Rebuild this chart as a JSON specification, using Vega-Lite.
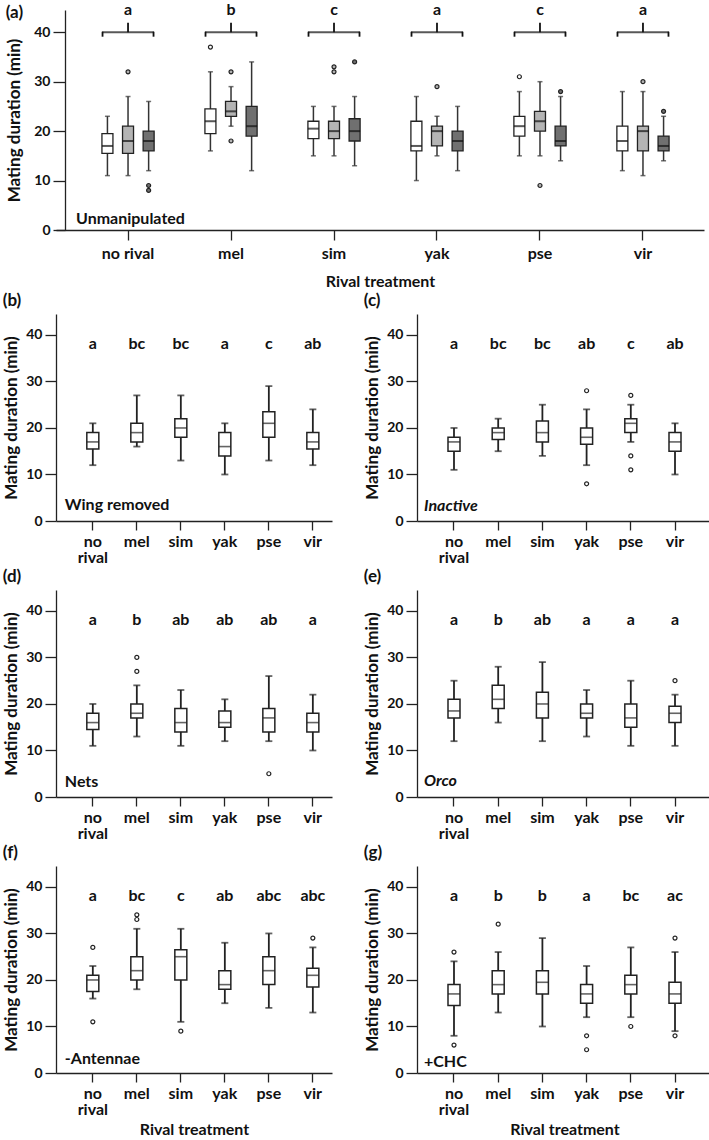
{
  "$schema": "https://vega.github.io/schema/vega-lite/v6.json",
  "background": "white",
  "padding": {"left": 2, "top": 2, "right": 0, "bottom": 0},
  "columns": 1,
  "spacing": 3,
  "datasets": {
    "abox": [
      {"t": "no rival", "g": "g1", "lo": 11, "q1": 15.5, "med": 17, "q3": 19.5, "hi": 23},
      {"t": "no rival", "g": "g2", "lo": 11, "q1": 15.5, "med": 18, "q3": 21, "hi": 27},
      {"t": "no rival", "g": "g3", "lo": 12, "q1": 16, "med": 18, "q3": 20, "hi": 26},
      {"t": "mel", "g": "g1", "lo": 16, "q1": 19.5, "med": 22, "q3": 24.5, "hi": 32},
      {"t": "mel", "g": "g2", "lo": 21, "q1": 23, "med": 24, "q3": 26, "hi": 29},
      {"t": "mel", "g": "g3", "lo": 12, "q1": 19, "med": 21, "q3": 25, "hi": 34},
      {"t": "sim", "g": "g1", "lo": 15, "q1": 18.5, "med": 20.5, "q3": 22, "hi": 25},
      {"t": "sim", "g": "g2", "lo": 15, "q1": 18.5, "med": 20, "q3": 22, "hi": 25},
      {"t": "sim", "g": "g3", "lo": 13, "q1": 18, "med": 20, "q3": 22.5, "hi": 27},
      {"t": "yak", "g": "g1", "lo": 10, "q1": 16, "med": 17, "q3": 22, "hi": 27},
      {"t": "yak", "g": "g2", "lo": 15, "q1": 17, "med": 20, "q3": 21, "hi": 23},
      {"t": "yak", "g": "g3", "lo": 12, "q1": 16, "med": 18, "q3": 20, "hi": 25},
      {"t": "pse", "g": "g1", "lo": 15, "q1": 19, "med": 21, "q3": 23, "hi": 28},
      {"t": "pse", "g": "g2", "lo": 15, "q1": 20, "med": 22, "q3": 24, "hi": 30},
      {"t": "pse", "g": "g3", "lo": 14, "q1": 17, "med": 18, "q3": 21, "hi": 27},
      {"t": "vir", "g": "g1", "lo": 12, "q1": 16, "med": 18, "q3": 21, "hi": 28},
      {"t": "vir", "g": "g2", "lo": 11, "q1": 16, "med": 20, "q3": 21, "hi": 28},
      {"t": "vir", "g": "g3", "lo": 14, "q1": 16, "med": 17, "q3": 19, "hi": 23}
    ],
    "aout": [
      {"t": "no rival", "g": "g2", "v": 32},
      {"t": "no rival", "g": "g3", "v": 9},
      {"t": "no rival", "g": "g3", "v": 8},
      {"t": "mel", "g": "g1", "v": 37},
      {"t": "mel", "g": "g2", "v": 32},
      {"t": "mel", "g": "g2", "v": 18},
      {"t": "sim", "g": "g2", "v": 32},
      {"t": "sim", "g": "g2", "v": 33},
      {"t": "sim", "g": "g3", "v": 34},
      {"t": "yak", "g": "g2", "v": 29},
      {"t": "pse", "g": "g1", "v": 31},
      {"t": "pse", "g": "g2", "v": 9},
      {"t": "pse", "g": "g3", "v": 28},
      {"t": "vir", "g": "g2", "v": 30},
      {"t": "vir", "g": "g3", "v": 24}
    ],
    "box": [
      {"p": "b", "t": "no rival", "lo": 12, "q1": 15.5, "med": 17, "q3": 19, "hi": 21},
      {"p": "b", "t": "mel", "lo": 16, "q1": 17, "med": 19, "q3": 21, "hi": 27},
      {"p": "b", "t": "sim", "lo": 13, "q1": 18, "med": 20, "q3": 22, "hi": 27},
      {"p": "b", "t": "yak", "lo": 10, "q1": 14, "med": 16, "q3": 19, "hi": 21},
      {"p": "b", "t": "pse", "lo": 13, "q1": 18, "med": 21, "q3": 23.5, "hi": 29},
      {"p": "b", "t": "vir", "lo": 12, "q1": 15.5, "med": 17, "q3": 19, "hi": 24},
      {"p": "c", "t": "no rival", "lo": 11, "q1": 15, "med": 17, "q3": 18, "hi": 20},
      {"p": "c", "t": "mel", "lo": 15, "q1": 17.5, "med": 19, "q3": 20, "hi": 22},
      {"p": "c", "t": "sim", "lo": 14, "q1": 17, "med": 19, "q3": 21.5, "hi": 25},
      {"p": "c", "t": "yak", "lo": 12, "q1": 16.5, "med": 18, "q3": 20, "hi": 24},
      {"p": "c", "t": "pse", "lo": 17, "q1": 19, "med": 21, "q3": 22, "hi": 25},
      {"p": "c", "t": "vir", "lo": 10, "q1": 15, "med": 17, "q3": 19, "hi": 21},
      {"p": "d", "t": "no rival", "lo": 11, "q1": 14.5, "med": 16, "q3": 18, "hi": 20},
      {"p": "d", "t": "mel", "lo": 13, "q1": 17, "med": 18, "q3": 20, "hi": 24},
      {"p": "d", "t": "sim", "lo": 11, "q1": 14, "med": 16, "q3": 19, "hi": 23},
      {"p": "d", "t": "yak", "lo": 12, "q1": 15, "med": 16, "q3": 18.5, "hi": 21},
      {"p": "d", "t": "pse", "lo": 12, "q1": 14, "med": 17, "q3": 19, "hi": 26},
      {"p": "d", "t": "vir", "lo": 10, "q1": 14, "med": 16, "q3": 18, "hi": 22},
      {"p": "e", "t": "no rival", "lo": 12, "q1": 17, "med": 18.5, "q3": 21, "hi": 25},
      {"p": "e", "t": "mel", "lo": 16, "q1": 19, "med": 21, "q3": 24, "hi": 28},
      {"p": "e", "t": "sim", "lo": 12, "q1": 17, "med": 20, "q3": 22.5, "hi": 29},
      {"p": "e", "t": "yak", "lo": 13, "q1": 17, "med": 18, "q3": 20, "hi": 23},
      {"p": "e", "t": "pse", "lo": 11, "q1": 15, "med": 17, "q3": 20, "hi": 25},
      {"p": "e", "t": "vir", "lo": 11, "q1": 16, "med": 18, "q3": 19.5, "hi": 22},
      {"p": "f", "t": "no rival", "lo": 16, "q1": 17.5, "med": 20, "q3": 21, "hi": 23},
      {"p": "f", "t": "mel", "lo": 18, "q1": 20, "med": 22, "q3": 25, "hi": 31},
      {"p": "f", "t": "sim", "lo": 11, "q1": 20, "med": 25, "q3": 26.5, "hi": 31},
      {"p": "f", "t": "yak", "lo": 15, "q1": 18, "med": 19, "q3": 22, "hi": 28},
      {"p": "f", "t": "pse", "lo": 14, "q1": 19, "med": 22, "q3": 25, "hi": 30},
      {"p": "f", "t": "vir", "lo": 13, "q1": 18.5, "med": 21, "q3": 22.5, "hi": 27},
      {"p": "g", "t": "no rival", "lo": 8, "q1": 14.5, "med": 17, "q3": 19, "hi": 24},
      {"p": "g", "t": "mel", "lo": 13, "q1": 17, "med": 19, "q3": 22, "hi": 26},
      {"p": "g", "t": "sim", "lo": 10, "q1": 17, "med": 19.5, "q3": 22, "hi": 29},
      {"p": "g", "t": "yak", "lo": 12, "q1": 15, "med": 17, "q3": 19, "hi": 23},
      {"p": "g", "t": "pse", "lo": 12, "q1": 17, "med": 19, "q3": 21, "hi": 27},
      {"p": "g", "t": "vir", "lo": 9, "q1": 15, "med": 17, "q3": 19.5, "hi": 26}
    ],
    "out": [
      {"p": "c", "t": "yak", "v": 28}, {"p": "c", "t": "yak", "v": 8},
      {"p": "c", "t": "pse", "v": 27}, {"p": "c", "t": "pse", "v": 14}, {"p": "c", "t": "pse", "v": 11},
      {"p": "d", "t": "mel", "v": 30}, {"p": "d", "t": "mel", "v": 27}, {"p": "d", "t": "pse", "v": 5},
      {"p": "e", "t": "vir", "v": 25},
      {"p": "f", "t": "no rival", "v": 27}, {"p": "f", "t": "no rival", "v": 11},
      {"p": "f", "t": "mel", "v": 34}, {"p": "f", "t": "mel", "v": 33},
      {"p": "f", "t": "sim", "v": 9}, {"p": "f", "t": "vir", "v": 29},
      {"p": "g", "t": "no rival", "v": 26}, {"p": "g", "t": "no rival", "v": 6},
      {"p": "g", "t": "mel", "v": 32},
      {"p": "g", "t": "yak", "v": 8}, {"p": "g", "t": "yak", "v": 5},
      {"p": "g", "t": "pse", "v": 10},
      {"p": "g", "t": "vir", "v": 29}, {"p": "g", "t": "vir", "v": 8}
    ],
    "letters": [
      {"p": "a", "t": "no rival", "letter": "a"}, {"p": "a", "t": "mel", "letter": "b"}, {"p": "a", "t": "sim", "letter": "c"},
      {"p": "a", "t": "yak", "letter": "a"}, {"p": "a", "t": "pse", "letter": "c"}, {"p": "a", "t": "vir", "letter": "a"},
      {"p": "b", "t": "no rival", "letter": "a"}, {"p": "b", "t": "mel", "letter": "bc"}, {"p": "b", "t": "sim", "letter": "bc"},
      {"p": "b", "t": "yak", "letter": "a"}, {"p": "b", "t": "pse", "letter": "c"}, {"p": "b", "t": "vir", "letter": "ab"},
      {"p": "c", "t": "no rival", "letter": "a"}, {"p": "c", "t": "mel", "letter": "bc"}, {"p": "c", "t": "sim", "letter": "bc"},
      {"p": "c", "t": "yak", "letter": "ab"}, {"p": "c", "t": "pse", "letter": "c"}, {"p": "c", "t": "vir", "letter": "ab"},
      {"p": "d", "t": "no rival", "letter": "a"}, {"p": "d", "t": "mel", "letter": "b"}, {"p": "d", "t": "sim", "letter": "ab"},
      {"p": "d", "t": "yak", "letter": "ab"}, {"p": "d", "t": "pse", "letter": "ab"}, {"p": "d", "t": "vir", "letter": "a"},
      {"p": "e", "t": "no rival", "letter": "a"}, {"p": "e", "t": "mel", "letter": "b"}, {"p": "e", "t": "sim", "letter": "ab"},
      {"p": "e", "t": "yak", "letter": "a"}, {"p": "e", "t": "pse", "letter": "a"}, {"p": "e", "t": "vir", "letter": "a"},
      {"p": "f", "t": "no rival", "letter": "a"}, {"p": "f", "t": "mel", "letter": "bc"}, {"p": "f", "t": "sim", "letter": "c"},
      {"p": "f", "t": "yak", "letter": "ab"}, {"p": "f", "t": "pse", "letter": "abc"}, {"p": "f", "t": "vir", "letter": "abc"},
      {"p": "g", "t": "no rival", "letter": "a"}, {"p": "g", "t": "mel", "letter": "b"}, {"p": "g", "t": "sim", "letter": "b"},
      {"p": "g", "t": "yak", "letter": "a"}, {"p": "g", "t": "pse", "letter": "bc"}, {"p": "g", "t": "vir", "letter": "ac"}
    ],
    "panels": [
      {"p": "a", "condition": "Unmanipulated"},
      {"p": "b", "condition": "Wing removed"},
      {"p": "c", "condition": "Inactive"},
      {"p": "d", "condition": "Nets"},
      {"p": "e", "condition": "Orco"},
      {"p": "f", "condition": "-Antennae"},
      {"p": "g", "condition": "+CHC"}
    ]
  },
  "concat": [
    {
      "width": 648, "height": 220,
      "title": {"text": "(a)", "offset": -20},
      "encoding": {"x": {"field": "t", "type": "nominal", "sort": ["no rival", "mel", "sim", "yak", "pse", "vir"], "title": "Rival treatment",
        "scale": {"domain": ["no rival", "mel", "sim", "yak", "pse", "vir"], "paddingInner": 0, "paddingOuter": 0.146, "align": 0.683},
        "axis": {"tickSize": 10, "labelPadding": 5, "titlePadding": 12}}},
      "layer": [
        {"data": {"name": "abox"}, "mark": {"type": "rule", "color": "#333", "strokeWidth": 1.5},
          "encoding": {"xOffset": {"field": "g", "type": "nominal", "scale": {"domain": ["g1", "g2", "g3"], "paddingInner": 0, "paddingOuter": 1.21}},
            "y": {"field": "lo", "type": "quantitative", "scale": {"domain": [0, 44.5], "nice": false}, "axis": {"values": [0, 10, 20, 30, 40], "title": "Mating duration (min)", "labelFontSize": 14, "tickSize": 12, "titlePadding": 10, "offset": -9}},
            "y2": {"field": "hi"}}},
        {"data": {"name": "abox"}, "mark": {"type": "tick", "color": "#333", "size": 5, "thickness": 1.5},
          "encoding": {"xOffset": {"field": "g", "type": "nominal", "scale": {"domain": ["g1", "g2", "g3"], "paddingInner": 0, "paddingOuter": 1.21}},
            "y": {"field": "lo", "type": "quantitative", "scale": {"domain": [0, 44.5], "nice": false}}}},
        {"data": {"name": "abox"}, "mark": {"type": "tick", "color": "#333", "size": 5, "thickness": 1.5},
          "encoding": {"xOffset": {"field": "g", "type": "nominal", "scale": {"domain": ["g1", "g2", "g3"], "paddingInner": 0, "paddingOuter": 1.21}},
            "y": {"field": "hi", "type": "quantitative", "scale": {"domain": [0, 44.5], "nice": false}}}},
        {"data": {"name": "abox"}, "mark": {"type": "bar", "size": 11, "stroke": "#222", "strokeWidth": 1.3},
          "encoding": {"xOffset": {"field": "g", "type": "nominal", "scale": {"domain": ["g1", "g2", "g3"], "paddingInner": 0, "paddingOuter": 1.21}},
            "y": {"field": "q1", "type": "quantitative", "scale": {"domain": [0, 44.5], "nice": false}},
            "y2": {"field": "q3"},
            "fill": {"field": "g", "type": "nominal", "scale": {"domain": ["g1", "g2", "g3"], "range": ["#ffffff", "#b4b4b4", "#707070"]}, "legend": null}}},
        {"data": {"name": "abox"}, "mark": {"type": "tick", "color": "#111", "size": 11, "thickness": 2},
          "encoding": {"xOffset": {"field": "g", "type": "nominal", "scale": {"domain": ["g1", "g2", "g3"], "paddingInner": 0, "paddingOuter": 1.21}},
            "y": {"field": "med", "type": "quantitative", "scale": {"domain": [0, 44.5], "nice": false}}}},
        {"data": {"name": "aout"}, "mark": {"type": "point", "filled": true, "stroke": "#222", "strokeWidth": 1.2, "size": 16, "opacity": 1},
          "encoding": {"xOffset": {"field": "g", "type": "nominal", "scale": {"domain": ["g1", "g2", "g3"], "paddingInner": 0, "paddingOuter": 1.21}},
            "y": {"field": "v", "type": "quantitative", "scale": {"domain": [0, 44.5], "nice": false}},
            "fill": {"field": "g", "type": "nominal", "scale": {"domain": ["g1", "g2", "g3"], "range": ["#ffffff", "#b4b4b4", "#707070"]}, "legend": null}}},
        {"data": {"name": "letters"}, "transform": [{"filter": "datum.p == 'a'"}], "mark": {"type": "tick", "color": "#111", "size": 52, "thickness": 1.8},
          "encoding": {"y": {"datum": 40, "type": "quantitative", "scale": {"domain": [0, 44.5], "nice": false}}}},
        {"data": {"name": "letters"}, "transform": [{"filter": "datum.p == 'a'"}], "mark": {"type": "rule", "color": "#111", "strokeWidth": 1.8, "xOffset": -25.5},
          "encoding": {"y": {"datum": 40.1, "type": "quantitative", "scale": {"domain": [0, 44.5], "nice": false}}, "y2": {"datum": 39.1}}},
        {"data": {"name": "letters"}, "transform": [{"filter": "datum.p == 'a'"}], "mark": {"type": "rule", "color": "#111", "strokeWidth": 1.8, "xOffset": 25.5},
          "encoding": {"y": {"datum": 40.1, "type": "quantitative", "scale": {"domain": [0, 44.5], "nice": false}}, "y2": {"datum": 39.1}}},
        {"data": {"name": "letters"}, "transform": [{"filter": "datum.p == 'a'"}], "mark": {"type": "rule", "color": "#111", "strokeWidth": 1.8},
          "encoding": {"y": {"datum": 40, "type": "quantitative", "scale": {"domain": [0, 44.5], "nice": false}}, "y2": {"datum": 41.9}}},
        {"data": {"name": "letters"}, "transform": [{"filter": "datum.p == 'a'"}], "mark": {"type": "text", "font": "Lato", "fontWeight": "bold", "fontSize": 16, "baseline": "middle", "color": "#111"},
          "encoding": {"y": {"datum": 44.4, "type": "quantitative", "scale": {"domain": [0, 44.5], "nice": false}}, "text": {"field": "letter"}}},
        {"data": {"name": "panels"}, "transform": [{"filter": "datum.p == 'a'"}], "mark": {"type": "text", "font": "Lato", "fontWeight": "bold", "fontSize": 16, "baseline": "middle", "align": "left", "dx": -52, "color": "#111"},
          "encoding": {"x": {"datum": "no rival"}, "y": {"datum": 2.3, "type": "quantitative", "scale": {"domain": [0, 44.5], "nice": false}}, "text": {"field": "condition"}}}
      ]
    },
    {
      "spacing": 31,
      "hconcat": [
        {
          "width": 276, "height": 207,
          "title": {"text": "(b)"},
          "encoding": {"x": {"field": "t", "type": "nominal", "sort": ["no rival", "mel", "sim", "yak", "pse", "vir"], "title": null,
            "scale": {"domain": ["no rival", "mel", "sim", "yak", "pse", "vir"], "paddingInner": 0.5, "paddingOuter": 0.386, "align": 0.76},
            "axis": {"labelExpr": "datum.value == 'no rival' ? ['no', 'rival'] : datum.value"}}},
          "layer": [
            {"data": {"name": "box"}, "transform": [{"filter": "datum.p == 'b'"}], "mark": {"type": "rule", "color": "#222", "strokeWidth": 1.8},
              "encoding": {"y": {"field": "lo", "type": "quantitative", "scale": {"domain": [0, 44.5], "nice": false}, "axis": {"values": [0, 10, 20, 30, 40], "title": "Mating duration (min)"}}, "y2": {"field": "hi"}}},
            {"data": {"name": "box"}, "transform": [{"filter": "datum.p == 'b'"}], "mark": {"type": "tick", "color": "#222", "size": 7, "thickness": 1.8},
              "encoding": {"y": {"field": "lo", "type": "quantitative", "scale": {"domain": [0, 44.5], "nice": false}}}},
            {"data": {"name": "box"}, "transform": [{"filter": "datum.p == 'b'"}], "mark": {"type": "tick", "color": "#222", "size": 7, "thickness": 1.8},
              "encoding": {"y": {"field": "hi", "type": "quantitative", "scale": {"domain": [0, 44.5], "nice": false}}}},
            {"data": {"name": "box"}, "transform": [{"filter": "datum.p == 'b'"}], "mark": {"type": "bar", "size": 12, "fill": "#ffffff", "stroke": "#222", "strokeWidth": 1.5},
              "encoding": {"y": {"field": "q1", "type": "quantitative", "scale": {"domain": [0, 44.5], "nice": false}}, "y2": {"field": "q3"}}},
            {"data": {"name": "box"}, "transform": [{"filter": "datum.p == 'b'"}], "mark": {"type": "tick", "color": "#222", "size": 12, "thickness": 1.6},
              "encoding": {"y": {"field": "med", "type": "quantitative", "scale": {"domain": [0, 44.5], "nice": false}}}},
            {"data": {"name": "letters"}, "transform": [{"filter": "datum.p == 'b'"}], "mark": {"type": "text", "font": "Lato", "fontWeight": "bold", "fontSize": 16, "baseline": "middle", "color": "#111"},
              "encoding": {"y": {"datum": 38, "type": "quantitative", "scale": {"domain": [0, 44.5], "nice": false}}, "text": {"field": "letter"}}},
            {"data": {"name": "panels"}, "transform": [{"filter": "datum.p == 'b'"}], "mark": {"type": "text", "font": "Lato", "fontWeight": "bold", "fontSize": 16, "baseline": "middle", "align": "left", "dx": -28, "color": "#111"},
              "encoding": {"x": {"datum": "no rival"}, "y": {"datum": 3.4, "type": "quantitative", "scale": {"domain": [0, 44.5], "nice": false}}, "text": {"field": "condition"}}}
          ]
        },
        {
          "width": 295, "height": 207,
          "title": {"text": "(c)"},
          "encoding": {"x": {"field": "t", "type": "nominal", "sort": ["no rival", "mel", "sim", "yak", "pse", "vir"], "title": null,
            "scale": {"domain": ["no rival", "mel", "sim", "yak", "pse", "vir"], "paddingInner": 0, "paddingOuter": 0.337},
            "axis": {"labelExpr": "datum.value == 'no rival' ? ['no', 'rival'] : datum.value"}}},
          "layer": [
            {"data": {"name": "box"}, "transform": [{"filter": "datum.p == 'c'"}], "mark": {"type": "rule", "color": "#222", "strokeWidth": 1.8},
              "encoding": {"y": {"field": "lo", "type": "quantitative", "scale": {"domain": [0, 44.5], "nice": false}, "axis": {"values": [0, 10, 20, 30, 40], "title": "Mating duration (min)"}}, "y2": {"field": "hi"}}},
            {"data": {"name": "box"}, "transform": [{"filter": "datum.p == 'c'"}], "mark": {"type": "tick", "color": "#222", "size": 7, "thickness": 1.8},
              "encoding": {"y": {"field": "lo", "type": "quantitative", "scale": {"domain": [0, 44.5], "nice": false}}}},
            {"data": {"name": "box"}, "transform": [{"filter": "datum.p == 'c'"}], "mark": {"type": "tick", "color": "#222", "size": 7, "thickness": 1.8},
              "encoding": {"y": {"field": "hi", "type": "quantitative", "scale": {"domain": [0, 44.5], "nice": false}}}},
            {"data": {"name": "box"}, "transform": [{"filter": "datum.p == 'c'"}], "mark": {"type": "bar", "size": 12, "fill": "#ffffff", "stroke": "#222", "strokeWidth": 1.5},
              "encoding": {"y": {"field": "q1", "type": "quantitative", "scale": {"domain": [0, 44.5], "nice": false}}, "y2": {"field": "q3"}}},
            {"data": {"name": "box"}, "transform": [{"filter": "datum.p == 'c'"}], "mark": {"type": "tick", "color": "#222", "size": 12, "thickness": 1.6},
              "encoding": {"y": {"field": "med", "type": "quantitative", "scale": {"domain": [0, 44.5], "nice": false}}}},
            {"data": {"name": "out"}, "transform": [{"filter": "datum.p == 'c'"}], "mark": {"type": "point", "filled": true, "fill": "#ffffff", "stroke": "#222", "strokeWidth": 1.2, "size": 16, "opacity": 1},
              "encoding": {"y": {"field": "v", "type": "quantitative", "scale": {"domain": [0, 44.5], "nice": false}}}},
            {"data": {"name": "letters"}, "transform": [{"filter": "datum.p == 'c'"}], "mark": {"type": "text", "font": "Lato", "fontWeight": "bold", "fontSize": 16, "baseline": "middle", "color": "#111"},
              "encoding": {"y": {"datum": 38, "type": "quantitative", "scale": {"domain": [0, 44.5], "nice": false}}, "text": {"field": "letter"}}},
            {"data": {"name": "panels"}, "transform": [{"filter": "datum.p == 'c'"}], "mark": {"type": "text", "font": "Lato", "fontStyle": "italic", "fontWeight": "bold", "fontSize": 16, "baseline": "middle", "align": "left", "dx": -30, "color": "#111"},
              "encoding": {"x": {"datum": "no rival"}, "y": {"datum": 3.2, "type": "quantitative", "scale": {"domain": [0, 44.5], "nice": false}}, "text": {"field": "condition"}}}
          ]
        }
      ]
    },
    {
      "spacing": 31,
      "hconcat": [
        {
          "width": 276, "height": 207,
          "title": {"text": "(d)"},
          "encoding": {"x": {"field": "t", "type": "nominal", "sort": ["no rival", "mel", "sim", "yak", "pse", "vir"], "title": null,
            "scale": {"domain": ["no rival", "mel", "sim", "yak", "pse", "vir"], "paddingInner": 0.5, "paddingOuter": 0.386, "align": 0.76},
            "axis": {"labelExpr": "datum.value == 'no rival' ? ['no', 'rival'] : datum.value"}}},
          "layer": [
            {"data": {"name": "box"}, "transform": [{"filter": "datum.p == 'd'"}], "mark": {"type": "rule", "color": "#222", "strokeWidth": 1.8},
              "encoding": {"y": {"field": "lo", "type": "quantitative", "scale": {"domain": [0, 44.5], "nice": false}, "axis": {"values": [0, 10, 20, 30, 40], "title": "Mating duration (min)"}}, "y2": {"field": "hi"}}},
            {"data": {"name": "box"}, "transform": [{"filter": "datum.p == 'd'"}], "mark": {"type": "tick", "color": "#222", "size": 7, "thickness": 1.8},
              "encoding": {"y": {"field": "lo", "type": "quantitative", "scale": {"domain": [0, 44.5], "nice": false}}}},
            {"data": {"name": "box"}, "transform": [{"filter": "datum.p == 'd'"}], "mark": {"type": "tick", "color": "#222", "size": 7, "thickness": 1.8},
              "encoding": {"y": {"field": "hi", "type": "quantitative", "scale": {"domain": [0, 44.5], "nice": false}}}},
            {"data": {"name": "box"}, "transform": [{"filter": "datum.p == 'd'"}], "mark": {"type": "bar", "size": 12, "fill": "#ffffff", "stroke": "#222", "strokeWidth": 1.5},
              "encoding": {"y": {"field": "q1", "type": "quantitative", "scale": {"domain": [0, 44.5], "nice": false}}, "y2": {"field": "q3"}}},
            {"data": {"name": "box"}, "transform": [{"filter": "datum.p == 'd'"}], "mark": {"type": "tick", "color": "#222", "size": 12, "thickness": 1.6},
              "encoding": {"y": {"field": "med", "type": "quantitative", "scale": {"domain": [0, 44.5], "nice": false}}}},
            {"data": {"name": "out"}, "transform": [{"filter": "datum.p == 'd'"}], "mark": {"type": "point", "filled": true, "fill": "#ffffff", "stroke": "#222", "strokeWidth": 1.2, "size": 16, "opacity": 1},
              "encoding": {"y": {"field": "v", "type": "quantitative", "scale": {"domain": [0, 44.5], "nice": false}}}},
            {"data": {"name": "letters"}, "transform": [{"filter": "datum.p == 'd'"}], "mark": {"type": "text", "font": "Lato", "fontWeight": "bold", "fontSize": 16, "baseline": "middle", "color": "#111"},
              "encoding": {"y": {"datum": 38, "type": "quantitative", "scale": {"domain": [0, 44.5], "nice": false}}, "text": {"field": "letter"}}},
            {"data": {"name": "panels"}, "transform": [{"filter": "datum.p == 'd'"}], "mark": {"type": "text", "font": "Lato", "fontWeight": "bold", "fontSize": 16, "baseline": "middle", "align": "left", "dx": -28, "color": "#111"},
              "encoding": {"x": {"datum": "no rival"}, "y": {"datum": 3.2, "type": "quantitative", "scale": {"domain": [0, 44.5], "nice": false}}, "text": {"field": "condition"}}}
          ]
        },
        {
          "width": 295, "height": 207,
          "title": {"text": "(e)"},
          "encoding": {"x": {"field": "t", "type": "nominal", "sort": ["no rival", "mel", "sim", "yak", "pse", "vir"], "title": null,
            "scale": {"domain": ["no rival", "mel", "sim", "yak", "pse", "vir"], "paddingInner": 0, "paddingOuter": 0.337},
            "axis": {"labelExpr": "datum.value == 'no rival' ? ['no', 'rival'] : datum.value"}}},
          "layer": [
            {"data": {"name": "box"}, "transform": [{"filter": "datum.p == 'e'"}], "mark": {"type": "rule", "color": "#222", "strokeWidth": 1.8},
              "encoding": {"y": {"field": "lo", "type": "quantitative", "scale": {"domain": [0, 44.5], "nice": false}, "axis": {"values": [0, 10, 20, 30, 40], "title": "Mating duration (min)"}}, "y2": {"field": "hi"}}},
            {"data": {"name": "box"}, "transform": [{"filter": "datum.p == 'e'"}], "mark": {"type": "tick", "color": "#222", "size": 7, "thickness": 1.8},
              "encoding": {"y": {"field": "lo", "type": "quantitative", "scale": {"domain": [0, 44.5], "nice": false}}}},
            {"data": {"name": "box"}, "transform": [{"filter": "datum.p == 'e'"}], "mark": {"type": "tick", "color": "#222", "size": 7, "thickness": 1.8},
              "encoding": {"y": {"field": "hi", "type": "quantitative", "scale": {"domain": [0, 44.5], "nice": false}}}},
            {"data": {"name": "box"}, "transform": [{"filter": "datum.p == 'e'"}], "mark": {"type": "bar", "size": 12, "fill": "#ffffff", "stroke": "#222", "strokeWidth": 1.5},
              "encoding": {"y": {"field": "q1", "type": "quantitative", "scale": {"domain": [0, 44.5], "nice": false}}, "y2": {"field": "q3"}}},
            {"data": {"name": "box"}, "transform": [{"filter": "datum.p == 'e'"}], "mark": {"type": "tick", "color": "#222", "size": 12, "thickness": 1.6},
              "encoding": {"y": {"field": "med", "type": "quantitative", "scale": {"domain": [0, 44.5], "nice": false}}}},
            {"data": {"name": "out"}, "transform": [{"filter": "datum.p == 'e'"}], "mark": {"type": "point", "filled": true, "fill": "#ffffff", "stroke": "#222", "strokeWidth": 1.2, "size": 16, "opacity": 1},
              "encoding": {"y": {"field": "v", "type": "quantitative", "scale": {"domain": [0, 44.5], "nice": false}}}},
            {"data": {"name": "letters"}, "transform": [{"filter": "datum.p == 'e'"}], "mark": {"type": "text", "font": "Lato", "fontWeight": "bold", "fontSize": 16, "baseline": "middle", "color": "#111"},
              "encoding": {"y": {"datum": 38, "type": "quantitative", "scale": {"domain": [0, 44.5], "nice": false}}, "text": {"field": "letter"}}},
            {"data": {"name": "panels"}, "transform": [{"filter": "datum.p == 'e'"}], "mark": {"type": "text", "font": "Lato", "fontStyle": "italic", "fontWeight": "bold", "fontSize": 16, "baseline": "middle", "align": "left", "dx": -30, "color": "#111"},
              "encoding": {"x": {"datum": "no rival"}, "y": {"datum": 3.4, "type": "quantitative", "scale": {"domain": [0, 44.5], "nice": false}}, "text": {"field": "condition"}}}
          ]
        }
      ]
    },
    {
      "spacing": 31,
      "hconcat": [
        {
          "width": 276, "height": 207,
          "title": {"text": "(f)"},
          "encoding": {"x": {"field": "t", "type": "nominal", "sort": ["no rival", "mel", "sim", "yak", "pse", "vir"], "title": "Rival treatment",
            "scale": {"domain": ["no rival", "mel", "sim", "yak", "pse", "vir"], "paddingInner": 0.5, "paddingOuter": 0.386, "align": 0.76},
            "axis": {"labelExpr": "datum.value == 'no rival' ? ['no', 'rival'] : datum.value", "titlePadding": 4}}},
          "layer": [
            {"data": {"name": "box"}, "transform": [{"filter": "datum.p == 'f'"}], "mark": {"type": "rule", "color": "#222", "strokeWidth": 1.8},
              "encoding": {"y": {"field": "lo", "type": "quantitative", "scale": {"domain": [0, 44.5], "nice": false}, "axis": {"values": [0, 10, 20, 30, 40], "title": "Mating duration (min)"}}, "y2": {"field": "hi"}}},
            {"data": {"name": "box"}, "transform": [{"filter": "datum.p == 'f'"}], "mark": {"type": "tick", "color": "#222", "size": 7, "thickness": 1.8},
              "encoding": {"y": {"field": "lo", "type": "quantitative", "scale": {"domain": [0, 44.5], "nice": false}}}},
            {"data": {"name": "box"}, "transform": [{"filter": "datum.p == 'f'"}], "mark": {"type": "tick", "color": "#222", "size": 7, "thickness": 1.8},
              "encoding": {"y": {"field": "hi", "type": "quantitative", "scale": {"domain": [0, 44.5], "nice": false}}}},
            {"data": {"name": "box"}, "transform": [{"filter": "datum.p == 'f'"}], "mark": {"type": "bar", "size": 12, "fill": "#ffffff", "stroke": "#222", "strokeWidth": 1.5},
              "encoding": {"y": {"field": "q1", "type": "quantitative", "scale": {"domain": [0, 44.5], "nice": false}}, "y2": {"field": "q3"}}},
            {"data": {"name": "box"}, "transform": [{"filter": "datum.p == 'f'"}], "mark": {"type": "tick", "color": "#222", "size": 12, "thickness": 1.6},
              "encoding": {"y": {"field": "med", "type": "quantitative", "scale": {"domain": [0, 44.5], "nice": false}}}},
            {"data": {"name": "out"}, "transform": [{"filter": "datum.p == 'f'"}], "mark": {"type": "point", "filled": true, "fill": "#ffffff", "stroke": "#222", "strokeWidth": 1.2, "size": 16, "opacity": 1},
              "encoding": {"y": {"field": "v", "type": "quantitative", "scale": {"domain": [0, 44.5], "nice": false}}}},
            {"data": {"name": "letters"}, "transform": [{"filter": "datum.p == 'f'"}], "mark": {"type": "text", "font": "Lato", "fontWeight": "bold", "fontSize": 16, "baseline": "middle", "color": "#111"},
              "encoding": {"y": {"datum": 38, "type": "quantitative", "scale": {"domain": [0, 44.5], "nice": false}}, "text": {"field": "letter"}}},
            {"data": {"name": "panels"}, "transform": [{"filter": "datum.p == 'f'"}], "mark": {"type": "text", "font": "Lato", "fontWeight": "bold", "fontSize": 16, "baseline": "middle", "align": "left", "dx": -28, "color": "#111"},
              "encoding": {"x": {"datum": "no rival"}, "y": {"datum": 3.0, "type": "quantitative", "scale": {"domain": [0, 44.5], "nice": false}}, "text": {"field": "condition"}}}
          ]
        },
        {
          "width": 295, "height": 207,
          "title": {"text": "(g)"},
          "encoding": {"x": {"field": "t", "type": "nominal", "sort": ["no rival", "mel", "sim", "yak", "pse", "vir"], "title": "Rival treatment",
            "scale": {"domain": ["no rival", "mel", "sim", "yak", "pse", "vir"], "paddingInner": 0, "paddingOuter": 0.337},
            "axis": {"labelExpr": "datum.value == 'no rival' ? ['no', 'rival'] : datum.value", "titlePadding": 4}}},
          "layer": [
            {"data": {"name": "box"}, "transform": [{"filter": "datum.p == 'g'"}], "mark": {"type": "rule", "color": "#222", "strokeWidth": 1.8},
              "encoding": {"y": {"field": "lo", "type": "quantitative", "scale": {"domain": [0, 44.5], "nice": false}, "axis": {"values": [0, 10, 20, 30, 40], "title": "Mating duration (min)"}}, "y2": {"field": "hi"}}},
            {"data": {"name": "box"}, "transform": [{"filter": "datum.p == 'g'"}], "mark": {"type": "tick", "color": "#222", "size": 7, "thickness": 1.8},
              "encoding": {"y": {"field": "lo", "type": "quantitative", "scale": {"domain": [0, 44.5], "nice": false}}}},
            {"data": {"name": "box"}, "transform": [{"filter": "datum.p == 'g'"}], "mark": {"type": "tick", "color": "#222", "size": 7, "thickness": 1.8},
              "encoding": {"y": {"field": "hi", "type": "quantitative", "scale": {"domain": [0, 44.5], "nice": false}}}},
            {"data": {"name": "box"}, "transform": [{"filter": "datum.p == 'g'"}], "mark": {"type": "bar", "size": 12, "fill": "#ffffff", "stroke": "#222", "strokeWidth": 1.5},
              "encoding": {"y": {"field": "q1", "type": "quantitative", "scale": {"domain": [0, 44.5], "nice": false}}, "y2": {"field": "q3"}}},
            {"data": {"name": "box"}, "transform": [{"filter": "datum.p == 'g'"}], "mark": {"type": "tick", "color": "#222", "size": 12, "thickness": 1.6},
              "encoding": {"y": {"field": "med", "type": "quantitative", "scale": {"domain": [0, 44.5], "nice": false}}}},
            {"data": {"name": "out"}, "transform": [{"filter": "datum.p == 'g'"}], "mark": {"type": "point", "filled": true, "fill": "#ffffff", "stroke": "#222", "strokeWidth": 1.2, "size": 16, "opacity": 1},
              "encoding": {"y": {"field": "v", "type": "quantitative", "scale": {"domain": [0, 44.5], "nice": false}}}},
            {"data": {"name": "letters"}, "transform": [{"filter": "datum.p == 'g'"}], "mark": {"type": "text", "font": "Lato", "fontWeight": "bold", "fontSize": 16, "baseline": "middle", "color": "#111"},
              "encoding": {"y": {"datum": 38, "type": "quantitative", "scale": {"domain": [0, 44.5], "nice": false}}, "text": {"field": "letter"}}},
            {"data": {"name": "panels"}, "transform": [{"filter": "datum.p == 'g'"}], "mark": {"type": "text", "font": "Lato", "fontWeight": "bold", "fontSize": 16, "baseline": "middle", "align": "left", "dx": -30, "color": "#111"},
              "encoding": {"x": {"datum": "no rival"}, "y": {"datum": 2.4, "type": "quantitative", "scale": {"domain": [0, 44.5], "nice": false}}, "text": {"field": "condition"}}}
          ]
        }
      ]
    }
  ],
  "config": {
    "view": {"stroke": null},
    "font": "Lato",
    "title": {"font": "Lato", "fontSize": 17, "fontWeight": "bold", "anchor": "start", "frame": "bounds", "color": "#111", "offset": 0},
    "axis": {"labelFont": "Lato", "labelFontWeight": "bold", "labelColor": "#111", "titleFont": "Lato", "titleFontWeight": "bold", "titleColor": "#111", "domainColor": "#222", "tickColor": "#222", "domainWidth": 1.3, "tickWidth": 1.3, "grid": false},
    "axisX": {"labelFontSize": 16, "labelAngle": 0, "tickSize": 9, "labelPadding": 3, "titlePadding": 6, "titleFontSize": 16, "labelLineHeight": 16},
    "axisY": {"labelFontSize": 14, "tickSize": 11, "labelPadding": 3, "titlePadding": 5, "titleFontSize": 17},
    "text": {"font": "Lato"}
  }
}
